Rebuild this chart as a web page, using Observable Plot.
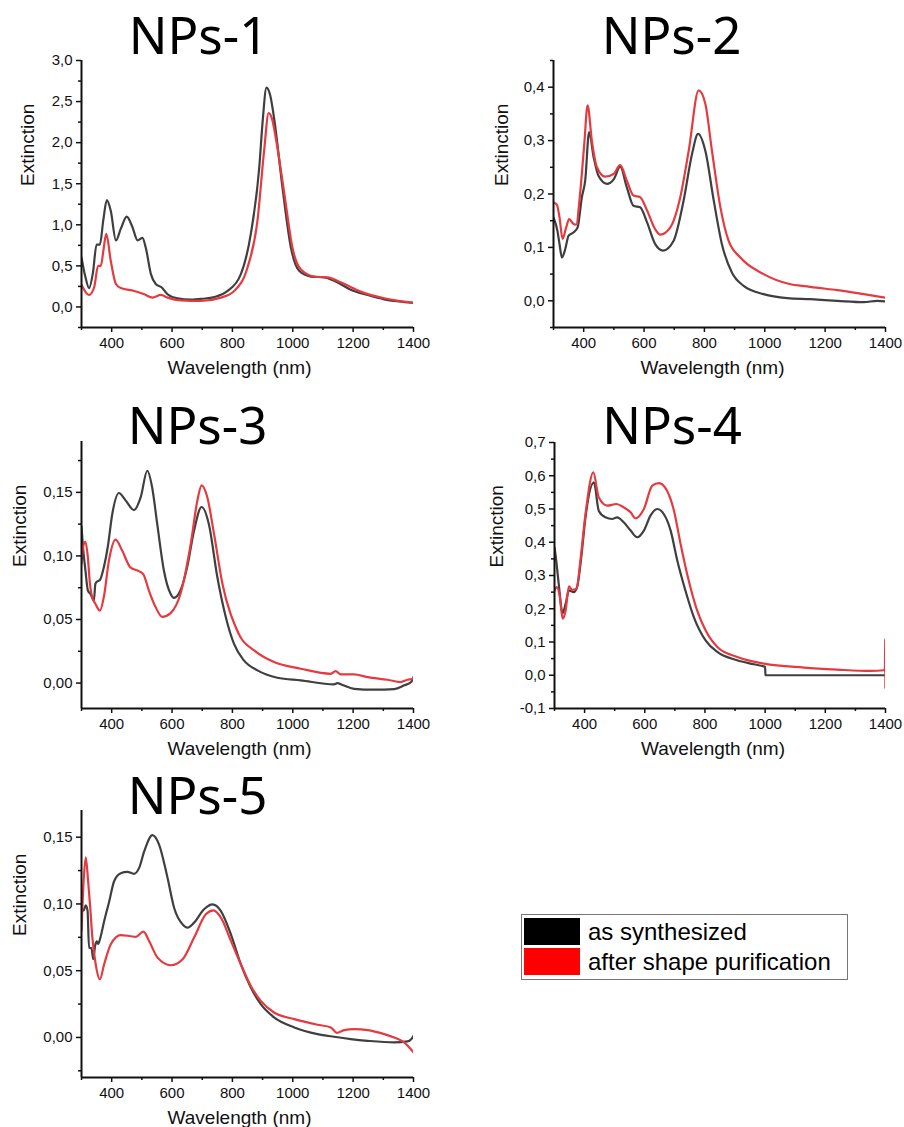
<!DOCTYPE html>
<html><head><meta charset="utf-8">
<script src="https://cdn.jsdelivr.net/npm/d3@7"></script>
<script src="https://cdn.jsdelivr.net/npm/@observablehq/plot@0.6"></script>
<style>
body{margin:0;background:#fff;}
#root{position:relative;width:904px;height:1127px;overflow:hidden;font-family:"Liberation Sans",Arial,sans-serif;}
.panel{position:absolute;}
#legend{position:absolute;left:521px;top:914px;width:325px;height:64px;border:1px solid #777;background:#fff;}
.lrow{position:absolute;left:2px;height:27px;display:flex;align-items:center;}
.sw{width:56px;height:27px;margin-right:8px;}
.lt{font-size:24px;color:#000;line-height:27px;white-space:nowrap;}
</style></head><body><div id="root"></div><script>
const seriesNames = ["as synthesized", "after shape purification"];
const lineColors = ["#3f3f3f", "#e53a3f"];
const swatchColors = ["#000000", "#ff0000"];
const panelTitles = ["NPs-1", "NPs-2", "NPs-3", "NPs-4", "NPs-5"];
const xMajor = [400, 600, 800, 1000, 1200, 1400];
const xMinor = [300, 500, 700, 900, 1100, 1300];

const np1Synth = [[300,0.60],[312,0.38],[325,0.23],[338,0.42],[350,0.76],[361,0.76],[372,1.05],[384,1.30],[397,1.17],[414,0.81],[430,0.95],[450,1.10],[468,0.98],[486,0.81],[502,0.84],[513,0.72],[530,0.40],[546,0.28],[565,0.24],[585,0.155],[618,0.105],[662,0.09],[700,0.10],[740,0.12],[784,0.195],[828,0.40],[861,0.89],[889,1.70],[900,2.25],[913,2.67],[925,2.58],[938,2.30],[966,1.45],[994,0.72],[1021,0.44],[1060,0.37],[1104,0.36],[1137,0.32],[1192,0.21],[1247,0.146],[1303,0.093],[1350,0.068],[1400,0.05]];
const np1Pur = [[300,0.27],[312,0.19],[325,0.146],[342,0.24],[355,0.50],[364,0.50],[373,0.70],[382,0.89],[397,0.56],[414,0.28],[430,0.23],[475,0.195],[508,0.155],[535,0.114],[563,0.146],[585,0.114],[629,0.08],[695,0.073],[762,0.114],[806,0.195],[850,0.48],[883,1.05],[905,1.90],[920,2.36],[932,2.28],[944,2.05],[972,1.38],[999,0.72],[1027,0.455],[1071,0.37],[1115,0.36],[1159,0.30],[1225,0.187],[1303,0.106],[1350,0.075],[1400,0.053]];

const np2Synth = [[300,0.156],[313,0.131],[320,0.106],[328,0.081],[339,0.097],[350,0.122],[366,0.128],[380,0.1375],[394,0.194],[405,0.225],[418,0.316],[433,0.269],[449,0.234],[477,0.219],[500,0.228],[521,0.251],[543,0.2125],[565,0.178],[587,0.175],[610,0.147],[637,0.106],[663,0.094],[698,0.1125],[731,0.1875],[759,0.275],[779,0.3125],[803,0.281],[831,0.1875],[858,0.106],[891,0.053],[930,0.028],[996,0.0125],[1074,0.005],[1151,0.003],[1240,0.0],[1328,-0.0025],[1372,0.0],[1400,-0.001]];
const np2Pur = [[300,0.184],[311,0.18],[320,0.156],[330,0.116],[342,0.1375],[352,0.153],[366,0.144],[375,0.1425],[388,0.2],[402,0.294],[413,0.366],[427,0.3],[444,0.25],[471,0.2325],[499,0.2375],[521,0.254],[543,0.225],[565,0.197],[587,0.194],[610,0.169],[637,0.134],[654,0.124],[687,0.1375],[720,0.194],[748,0.281],[781,0.394],[803,0.369],[825,0.281],[853,0.175],[880,0.1125],[919,0.081],[996,0.05],[1085,0.031],[1140,0.027],[1151,0.026],[1240,0.02],[1328,0.0125],[1400,0.006]];

const np3Synth = [[300,0.123],[305,0.107],[313,0.0886],[321,0.073],[330,0.070],[341,0.065],[346,0.078],[350,0.0795],[361,0.081],[374,0.091],[387,0.107],[402,0.133],[424,0.1495],[446,0.1437],[474,0.136],[496,0.146],[518,0.167],[534,0.154],[551,0.125],[573,0.0886],[595,0.0703],[606,0.067],[628,0.073],[650,0.091],[673,0.120],[698,0.1385],[722,0.125],[750,0.0834],[778,0.052],[805,0.031],[838,0.0178],[883,0.01],[949,0.0042],[1026,0.0021],[1137,-0.001],[1148,0.0],[1165,-0.0015],[1203,-0.0045],[1269,-0.0052],[1336,-0.0047],[1369,-0.0018],[1393,0.001],[1400,0.0047]];
const np3Pur = [[300,0.094],[305,0.107],[313,0.111],[321,0.099],[328,0.078],[335,0.0677],[346,0.0624],[361,0.057],[374,0.0677],[391,0.0965],[413,0.1128],[435,0.104],[462,0.091],[490,0.088],[505,0.0855],[523,0.073],[545,0.06],[568,0.052],[595,0.055],[628,0.0703],[662,0.1096],[684,0.1437],[698,0.1555],[717,0.146],[739,0.1175],[767,0.078],[794,0.0545],[800,0.0506],[827,0.036],[872,0.0257],[938,0.0165],[1026,0.0113],[1126,0.0073],[1142,0.0094],[1159,0.0068],[1203,0.0068],[1247,0.0047],[1314,0.0026],[1358,0.0008],[1380,0.0026],[1400,0.0031]];

const np4Synth = [[300,0.385],[307,0.335],[314,0.275],[327,0.187],[337,0.215],[348,0.255],[364,0.25],[375,0.265],[389,0.355],[403,0.475],[431,0.58],[447,0.495],[469,0.475],[492,0.47],[508,0.475],[530,0.46],[553,0.435],[575,0.415],[597,0.435],[619,0.48],[641,0.50],[663,0.485],[686,0.435],[708,0.345],[735,0.255],[763,0.175],[802,0.105],[841,0.07],[907,0.045],[962,0.033],[1000,0.025],[1001,0.0],[1400,0.0]];
const np4Pur = [[300,0.255],[307,0.265],[318,0.235],[327,0.17],[337,0.195],[348,0.267],[359,0.257],[373,0.26],[386,0.345],[403,0.485],[429,0.61],[447,0.535],[475,0.51],[506,0.515],[530,0.505],[553,0.49],[569,0.472],[597,0.50],[625,0.57],[647,0.578],[674,0.555],[697,0.495],[719,0.395],[746,0.285],[774,0.195],[802,0.135],[841,0.085],[907,0.055],[996,0.035],[1129,0.023],[1239,0.017],[1350,0.013],[1395,0.015],[1398,0.02],[1399,0.11],[1399.5,-0.04],[1400,0.015]];

const np5Synth = [[300,0.097],[307,0.095],[314,0.099],[320,0.095],[325,0.067],[333,0.067],[339,0.0586],[345,0.0685],[351,0.072],[355,0.07],[364,0.076],[375,0.087],[392,0.102],[408,0.117],[430,0.123],[452,0.124],[474,0.1226],[491,0.127],[508,0.1395],[535,0.1515],[557,0.1445],[585,0.1196],[607,0.097],[635,0.0847],[651,0.0822],[673,0.086],[706,0.096],[734,0.0997],[762,0.0947],[795,0.0772],[828,0.0548],[861,0.0374],[894,0.0249],[938,0.015],[1005,0.0075],[1082,0.0025],[1137,0.0005],[1192,-0.0012],[1248,-0.0025],[1336,-0.0037],[1380,-0.003],[1393,-0.0012],[1400,0.0012]];
const np5Pur = [[300,0.08],[307,0.117],[314,0.135],[322,0.117],[329,0.097],[336,0.0748],[347,0.0548],[361,0.0436],[375,0.0548],[397,0.0698],[430,0.0767],[463,0.0758],[480,0.0753],[505,0.0792],[524,0.0723],[552,0.0598],[596,0.0541],[635,0.0586],[673,0.0748],[712,0.0922],[737,0.0952],[762,0.0897],[795,0.0723],[828,0.0548],[861,0.0386],[894,0.0274],[938,0.0187],[1005,0.0137],[1082,0.0095],[1126,0.0075],[1146,0.0035],[1170,0.0055],[1203,0.0062],[1248,0.0055],[1303,0.0025],[1336,0.0],[1369,-0.0037],[1400,-0.0112]];

const np1YMajor = [0,0.5,1,1.5,2,2.5,3];
const np1YMinor = [-0.25,0.25,0.75,1.25,1.75,2.25,2.75];
const np2YMajor = [0,0.1,0.2,0.3,0.4];
const np2YMinor = [-0.05,0.05,0.15,0.25,0.35,0.45];
const np3YMajor = [0,0.05,0.10,0.15];
const np3YMinor = [0.025,0.075,0.125,0.175];
const np4YMajor = [-0.1,0,0.1,0.2,0.3,0.4,0.5,0.6,0.7];
const np4YMinor = [-0.05,0.05,0.15,0.25,0.35,0.45,0.55,0.65];
const np5YMajor = [0,0.05,0.10,0.15];
const np5YMinor = [-0.025,0.025,0.075,0.125];

const loc = d3.formatLocale({decimal: ",", thousands: ".", grouping: [3], currency: ["", ""], minus: "-"});
const f1 = loc.format(".1f"), f2 = loc.format(".2f");

const panels = [
  {title: panelTitles[0], synth: np1Synth, pur: np1Pur, yDomain: [-0.25, 3.0], yMajor: np1YMajor, yMinor: np1YMinor, fmt: f1,
   left: 0, top: 0, w: 430, h: 385, ml: 81, mr: 17, mt: 60, mb: 58, tdx: -49, tdy: -7, edx: -54, wdx: -8},
  {title: panelTitles[1], synth: np2Synth, pur: np2Pur, yDomain: [-0.05, 0.45], yMajor: np2YMajor, yMinor: np2YMinor, fmt: f1,
   left: 470, top: 0, w: 434, h: 385, ml: 83, mr: 19, mt: 60, mb: 58, tdx: -48, tdy: -7, edx: -52, wdx: -7},
  {title: panelTitles[2], synth: np3Synth, pur: np3Pur, yDomain: [-0.02, 0.19], yMajor: np3YMajor, yMinor: np3YMinor, fmt: f2,
   left: 0, top: 385, w: 430, h: 380, ml: 81, mr: 17, mt: 56, mb: 57, tdx: -50, tdy: 2, edx: -62, wdx: -8},
  {title: panelTitles[3], synth: np4Synth, pur: np4Pur, yDomain: [-0.1, 0.7], yMajor: np4YMajor, yMinor: np4YMinor, fmt: f1,
   left: 470, top: 385, w: 434, h: 380, ml: 84, mr: 19, mt: 57, mb: 57, tdx: -48, tdy: 1, edx: -58, wdx: -7},
  {title: panelTitles[4], synth: np5Synth, pur: np5Pur, yDomain: [-0.03, 0.17], yMajor: np5YMajor, yMinor: np5YMinor, fmt: f2,
   left: 0, top: 765, w: 430, h: 362, ml: 81, mr: 17, mt: 45, mb: 50, tdx: -50, tdy: 3, edx: -62, wdx: -8}
];

const root = document.getElementById("root");
for (const p of panels) {
  const chart = Plot.plot({
    width: p.w, height: p.h,
    marginLeft: p.ml, marginRight: p.mr, marginTop: p.mt, marginBottom: p.mb,
    x: {domain: [300, 1400]},
    y: {domain: p.yDomain},
    style: {fontFamily: "'Liberation Sans', Arial, sans-serif", fontSize: "15px", color: "#111", background: "transparent", overflow: "visible"},
    marks: [
      Plot.axisX({ticks: xMajor, tickSize: 5, tickPadding: 5, tickFormat: d => String(d), label: null, fontSize: 15, strokeWidth: 1.5}),
      Plot.axisX({ticks: xMinor, tickSize: 3, tickFormat: () => "", label: null, strokeWidth: 1.5}),
      Plot.axisY({ticks: p.yMajor, tickSize: 5, tickPadding: 4, tickFormat: p.fmt, label: null, fontSize: 15, strokeWidth: 1.5}),
      Plot.axisY({ticks: p.yMinor, tickSize: 3, tickFormat: () => "", label: null, strokeWidth: 1.5}),
      Plot.line(p.synth, {x: d => d[0], y: d => d[1], stroke: lineColors[0], strokeWidth: 2.2, curve: "monotone-x", clip: true}),
      Plot.line(p.pur, {x: d => d[0], y: d => d[1], stroke: lineColors[1], strokeWidth: 2.2, curve: "monotone-x", clip: true}),
      Plot.ruleX([300], {stroke: "#111", strokeWidth: 2}),
      Plot.ruleY([p.yDomain[0]], {stroke: "#111", strokeWidth: 2}),
      Plot.text([p.title], {frameAnchor: "top", lineAnchor: "bottom", dx: p.tdx, dy: p.tdy, fontSize: 51, fontFamily: "'Noto Sans', 'Open Sans', sans-serif", fill: "#000"}),
      Plot.text(["Extinction"], {frameAnchor: "left", rotate: -90, dx: p.edx, dy: -8, fontSize: 19, fill: "#111"}),
      Plot.text(["Wavelength (nm)"], {frameAnchor: "bottom", lineAnchor: "bottom", dx: p.wdx, dy: 46, fontSize: 19, fill: "#111"})
    ]
  });
  chart.classList.add("panel");
  chart.style.left = p.left + "px";
  chart.style.top = p.top + "px";
  root.appendChild(chart);
}

const legend = document.createElement("div");
legend.id = "legend";
seriesNames.forEach((name, i) => {
  const row = document.createElement("div");
  row.className = "lrow";
  row.style.top = (3 + i * 30) + "px";
  const sw = document.createElement("div");
  sw.className = "sw";
  sw.style.background = swatchColors[i];
  const t = document.createElement("span");
  t.className = "lt";
  t.textContent = name;
  row.appendChild(sw); row.appendChild(t);
  legend.appendChild(row);
});
root.appendChild(legend);
</script></body></html>
